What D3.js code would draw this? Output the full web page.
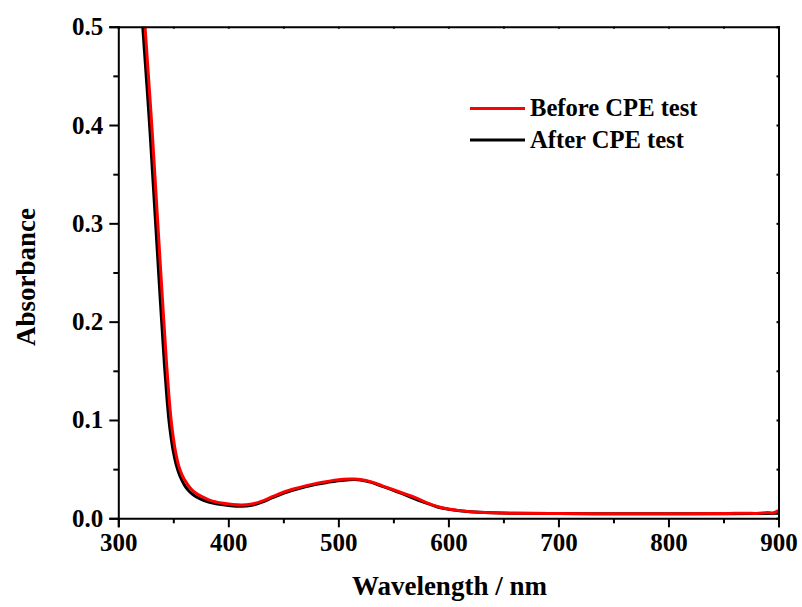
<!DOCTYPE html>
<html>
<head>
<meta charset="utf-8">
<script src="https://cdn.jsdelivr.net/npm/d3@7"></script>
<style>
  body { margin: 0; background: #fff; }
  svg { display: block; font-family: "Liberation Serif", "Times New Roman", serif; font-weight: bold; }
</style>
</head>
<body>
<svg id="chart" width="802" height="607"></svg>
<script>
// UV-Vis absorbance spectra, before and after the CPE test
const wavelengthBefore = [320, 324.3, 328, 331, 334, 337, 340, 342, 344, 346, 348, 350, 352, 355, 358, 362, 366, 370, 376, 384, 394, 404, 412, 420, 430, 440, 450, 460, 470, 480, 490, 500, 510, 515, 520, 530, 540, 550, 560, 570, 580, 590, 600, 610, 620, 640, 660, 700, 750, 800, 850, 870, 880, 890, 895, 900];
const absorbanceBefore = [0.57, 0.50, 0.44, 0.39, 0.335, 0.28, 0.225, 0.19, 0.155, 0.125, 0.10, 0.082, 0.068, 0.053, 0.044, 0.036, 0.030, 0.026, 0.022, 0.018, 0.0155, 0.0140, 0.0135, 0.0142, 0.0172, 0.0220, 0.0265, 0.030, 0.033, 0.0355, 0.0375, 0.0392, 0.040, 0.040, 0.0395, 0.037, 0.033, 0.029, 0.025, 0.021, 0.016, 0.012, 0.0095, 0.0078, 0.0067, 0.0057, 0.0051, 0.0048, 0.0047, 0.0047, 0.0048, 0.0052, 0.0050, 0.0058, 0.0054, 0.0078];

const wavelengthAfter = [318, 322.2, 326, 329, 332, 335, 338, 340, 342, 344, 346, 348, 350, 353, 356, 360, 364, 368, 374, 382, 392, 402, 412, 420, 430, 440, 450, 460, 470, 480, 490, 500, 510, 515, 520, 530, 540, 550, 560, 570, 580, 590, 600, 610, 620, 640, 660, 700, 750, 800, 850, 880, 900];
const absorbanceAfter = [0.57, 0.50, 0.44, 0.39, 0.335, 0.28, 0.225, 0.19, 0.155, 0.125, 0.10, 0.082, 0.068, 0.053, 0.043, 0.034, 0.028, 0.024, 0.020, 0.0165, 0.0142, 0.0128, 0.0122, 0.0130, 0.0162, 0.0210, 0.0255, 0.029, 0.032, 0.0345, 0.0365, 0.0382, 0.0393, 0.0395, 0.039, 0.0365, 0.0325, 0.0285, 0.024, 0.0195, 0.0155, 0.0115, 0.0092, 0.0076, 0.0066, 0.0056, 0.0051, 0.0048, 0.0047, 0.0047, 0.0047, 0.0048, 0.0052];

const xTicks = [300, 400, 500, 600, 700, 800, 900];
const xMinorTicks = [350, 450, 550, 650, 750, 850];
const yTicks = [0.0, 0.1, 0.2, 0.3, 0.4, 0.5];
const yMinorTicks = [0.05, 0.15, 0.25, 0.35, 0.45];

const seriesNames = ["Before CPE test", "After CPE test"];
const seriesColors = ["#ff0000", "#000000"];

const svg = d3.select("#chart");
const plotLeft = 118.3, plotRight = 778.5, plotTop = 26.7, plotBottom = 518.3;

const x = d3.scaleLinear().domain([300, 900]).range([plotLeft, plotRight]);
const y = d3.scaleLinear().domain([0, 0.5]).range([plotBottom, plotTop]);

svg.append("defs").append("clipPath").attr("id", "plotClip")
  .append("rect").attr("x", plotLeft).attr("y", plotTop)
  .attr("width", plotRight - plotLeft).attr("height", plotBottom - plotTop);

const line = d3.line().x(d => x(d[0])).y(d => y(d[1])).curve(d3.curveCatmullRom.alpha(0.5));

const after = wavelengthAfter.map((w, i) => [w, absorbanceAfter[i]]);
const before = wavelengthBefore.map((w, i) => [w, absorbanceBefore[i]]);

const plot = svg.append("g").attr("clip-path", "url(#plotClip)");
plot.append("path").datum(after).attr("d", line)
  .attr("fill", "none").attr("stroke", seriesColors[1]).attr("stroke-width", 3);
plot.append("path").datum(before).attr("d", line)
  .attr("fill", "none").attr("stroke", seriesColors[0]).attr("stroke-width", 3);

// Axes
function styleAxis(g) {
  g.selectAll(".domain").attr("stroke", "#000").attr("stroke-width", 2);
  g.selectAll(".tick line").attr("stroke", "#000").attr("stroke-width", 2);
}

const xAxis = svg.append("g").attr("transform", `translate(0,${plotBottom})`)
  .call(d3.axisBottom(x).tickValues(xTicks).tickFormat(d3.format("d")).tickSizeOuter(0).tickSize(9).tickPadding(6));
xAxis.call(styleAxis);
xAxis.selectAll("text").attr("font-size", 25).attr("font-family", "Liberation Serif").attr("font-weight", "bold").attr("fill", "#000");

svg.append("g").attr("transform", `translate(0,${plotBottom})`)
  .call(d3.axisBottom(x).tickValues(xMinorTicks).tickFormat("").tickSizeOuter(0).tickSize(5))
  .call(styleAxis).select(".domain").remove();

const yAxis = svg.append("g").attr("transform", `translate(${plotLeft},0)`)
  .call(d3.axisLeft(y).tickValues(yTicks).tickFormat(d3.format(".1f")).tickSizeOuter(0).tickSize(9).tickPadding(6));
yAxis.call(styleAxis);
yAxis.selectAll("text").attr("font-size", 25).attr("font-family", "Liberation Serif").attr("font-weight", "bold").attr("fill", "#000");

svg.append("g").attr("transform", `translate(${plotLeft},0)`)
  .call(d3.axisLeft(y).tickValues(yMinorTicks).tickFormat("").tickSizeOuter(0).tickSize(5))
  .call(styleAxis).select(".domain").remove();

// Top and right frame with small inward ticks
svg.append("g").attr("transform", `translate(0,${plotTop})`)
  .call(d3.axisTop(x).tickValues(xTicks.concat(xMinorTicks)).tickFormat("").tickSizeOuter(0).tickSize(-2))
  .call(styleAxis);
svg.append("g").attr("transform", `translate(${plotRight},0)`)
  .call(d3.axisRight(y).tickValues(yTicks.concat(yMinorTicks)).tickFormat("").tickSizeOuter(0).tickSize(-2))
  .call(styleAxis);

// Axis titles
svg.append("text").attr("x", (plotLeft + plotRight) / 2 + 1).attr("y", 595)
  .attr("text-anchor", "middle").attr("font-size", 27).text("Wavelength / nm");
svg.append("text").attr("transform", `translate(35,277) rotate(-90)`)
  .attr("text-anchor", "middle").attr("font-size", 27).text("Absorbance");

// Legend
const legend = svg.append("g");
const legendY = [108.5, 140];
seriesNames.forEach((name, i) => {
  legend.append("line").attr("x1", 470).attr("x2", 525)
    .attr("y1", legendY[i]).attr("y2", legendY[i])
    .attr("stroke", seriesColors[i]).attr("stroke-width", 3);
  legend.append("text").attr("x", 530).attr("y", legendY[i] + 7.5)
    .attr("font-size", 24.6).attr("fill", "#000").text(name);
});
</script>
</body>
</html>
